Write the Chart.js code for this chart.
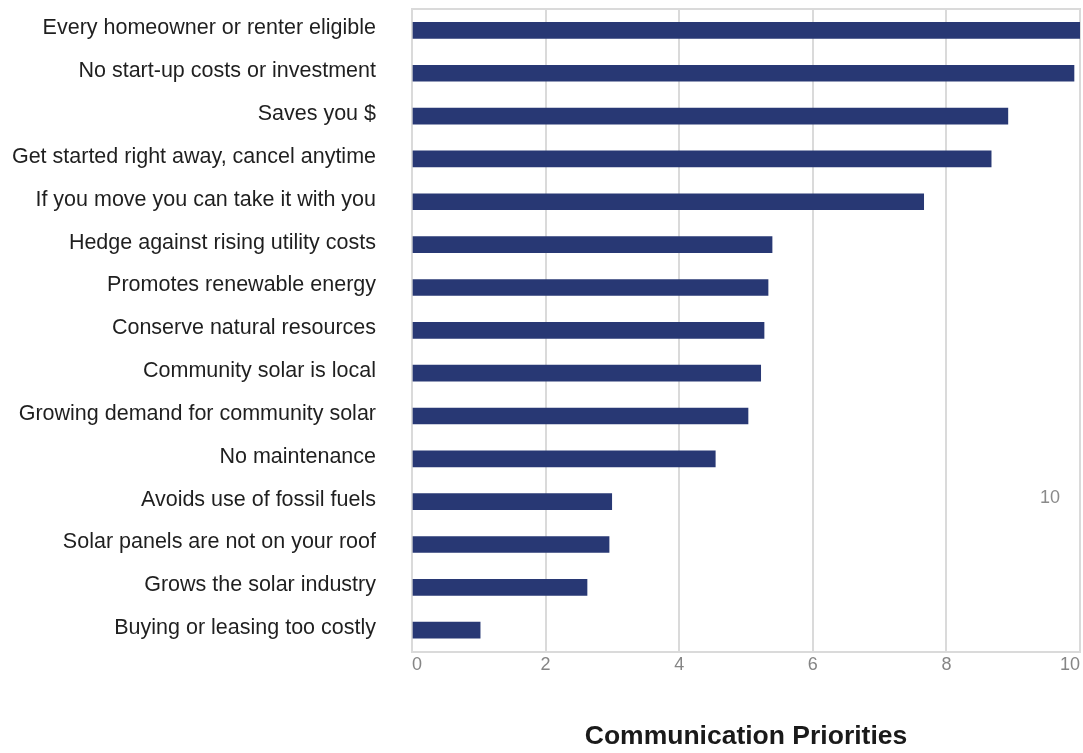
<!DOCTYPE html>
<html>
<head>
<meta charset="utf-8">
<title>Communication Priorities</title>
<script src="https://cdn.jsdelivr.net/npm/chart.js@4/dist/chart.umd.min.js"></script>
<style>
  html, body { margin: 0; padding: 0; background: #ffffff; }
  #wrap { width: 1083px; height: 753px; position: relative; }
</style>
</head>
<body>
<div id="wrap"><canvas id="chart"></canvas></div>
<script>
// Message categories, in ranked order
const categories = [
  'Every homeowner or renter eligible',
  'No start-up costs or investment',
  'Saves you $',
  'Get started right away, cancel anytime',
  'If you move you can take it with you',
  'Hedge against rising utility costs',
  'Promotes renewable energy',
  'Conserve natural resources',
  'Community solar is local',
  'Growing demand for community solar',
  'No maintenance',
  'Avoids use of fossil fuels',
  'Solar panels are not on your roof',
  'Grows the solar industry',
  'Buying or leasing too costly'
];

// Priority scores
const scores = [10.0, 9.91, 8.92, 8.67, 7.66, 5.39, 5.33, 5.27, 5.22, 5.03, 4.54, 2.99, 2.95, 2.62, 1.02];

// Axis ticks
const xTicks = [0, 2, 4, 6, 8, 10];

// Loose score note sitting inside the plot
const noteText = '10';
const noteValue = 9.55;
const noteRow = 'Avoids use of fossil fuels';

const chartTitle = 'Communication Priorities';

const FONT = "'Liberation Sans', Arial, Helvetica, sans-serif";

const notePlugin = {
  id: 'scoreNote',
  afterDatasetsDraw(chart) {
    const { ctx, scales } = chart;
    const x = scales.x.getPixelForValue(noteValue);
    const y = scales.y.getPixelForValue(categories.indexOf(noteRow)) - 4;
    ctx.save();
    ctx.font = '18px ' + FONT;
    ctx.fillStyle = '#8a8a8a';
    ctx.textAlign = 'center';
    ctx.textBaseline = 'middle';
    ctx.fillText(noteText, x, y);
    ctx.restore();
  }
};

new Chart(document.getElementById('chart'), {
  type: 'bar',
  data: {
    labels: categories,
    datasets: [{
      data: scores,
      backgroundColor: '#283874',
      borderWidth: 0,
      barThickness: 16,
      categoryPercentage: 1.0
    }]
  },
  options: {
    indexAxis: 'y',
    responsive: true,
    maintainAspectRatio: false,
    animation: false,
    layout: { padding: { top: 9, right: 3, bottom: 0, left: 0 } },
    plugins: {
      legend: { display: false },
      tooltip: { enabled: false },
      title: { display: false }
    },
    scales: {
      x: {
        type: 'linear',
        position: 'bottom',
        min: 0,
        max: 10,
        afterBuildTicks(scale) {
          scale.ticks = xTicks.map(v => ({ value: v }));
        },
        grid: {
          color: '#dadada',
          lineWidth: 2,
          drawTicks: false
        },
        border: { display: true, color: '#dadada', width: 2 },
        ticks: {
          align: 'inner',
          padding: 3,
          color: '#858585',
          font: { family: FONT, size: 18 }
        },
        title: {
          display: true,
          text: chartTitle,
          color: '#1a1a1a',
          font: { family: FONT, size: 26.5, weight: 'bold' },
          padding: { top: 42, bottom: 0 }
        }
      },
      xTop: {
        type: 'linear',
        position: 'top',
        min: 0,
        max: 10,
        grid: { display: false, drawTicks: false },
        border: { display: true, color: '#dadada', width: 2 },
        ticks: { display: false }
      },
      y: {
        type: 'category',
        position: 'left',
        afterFit(scale) {
          scale.width = 412;
          // labels sit inside the category bands, no extra edge room needed
          scale.paddingTop = 0;
          scale.paddingBottom = 0;
        },
        grid: { display: false, drawTicks: false },
        border: { display: false },
        ticks: {
          padding: 36,
          labelOffset: -2,
          color: '#1f1f1f',
          font: { family: FONT, size: 21.5 }
        }
      }
    }
  },
  plugins: [notePlugin]
});
</script>
</body>
</html>
